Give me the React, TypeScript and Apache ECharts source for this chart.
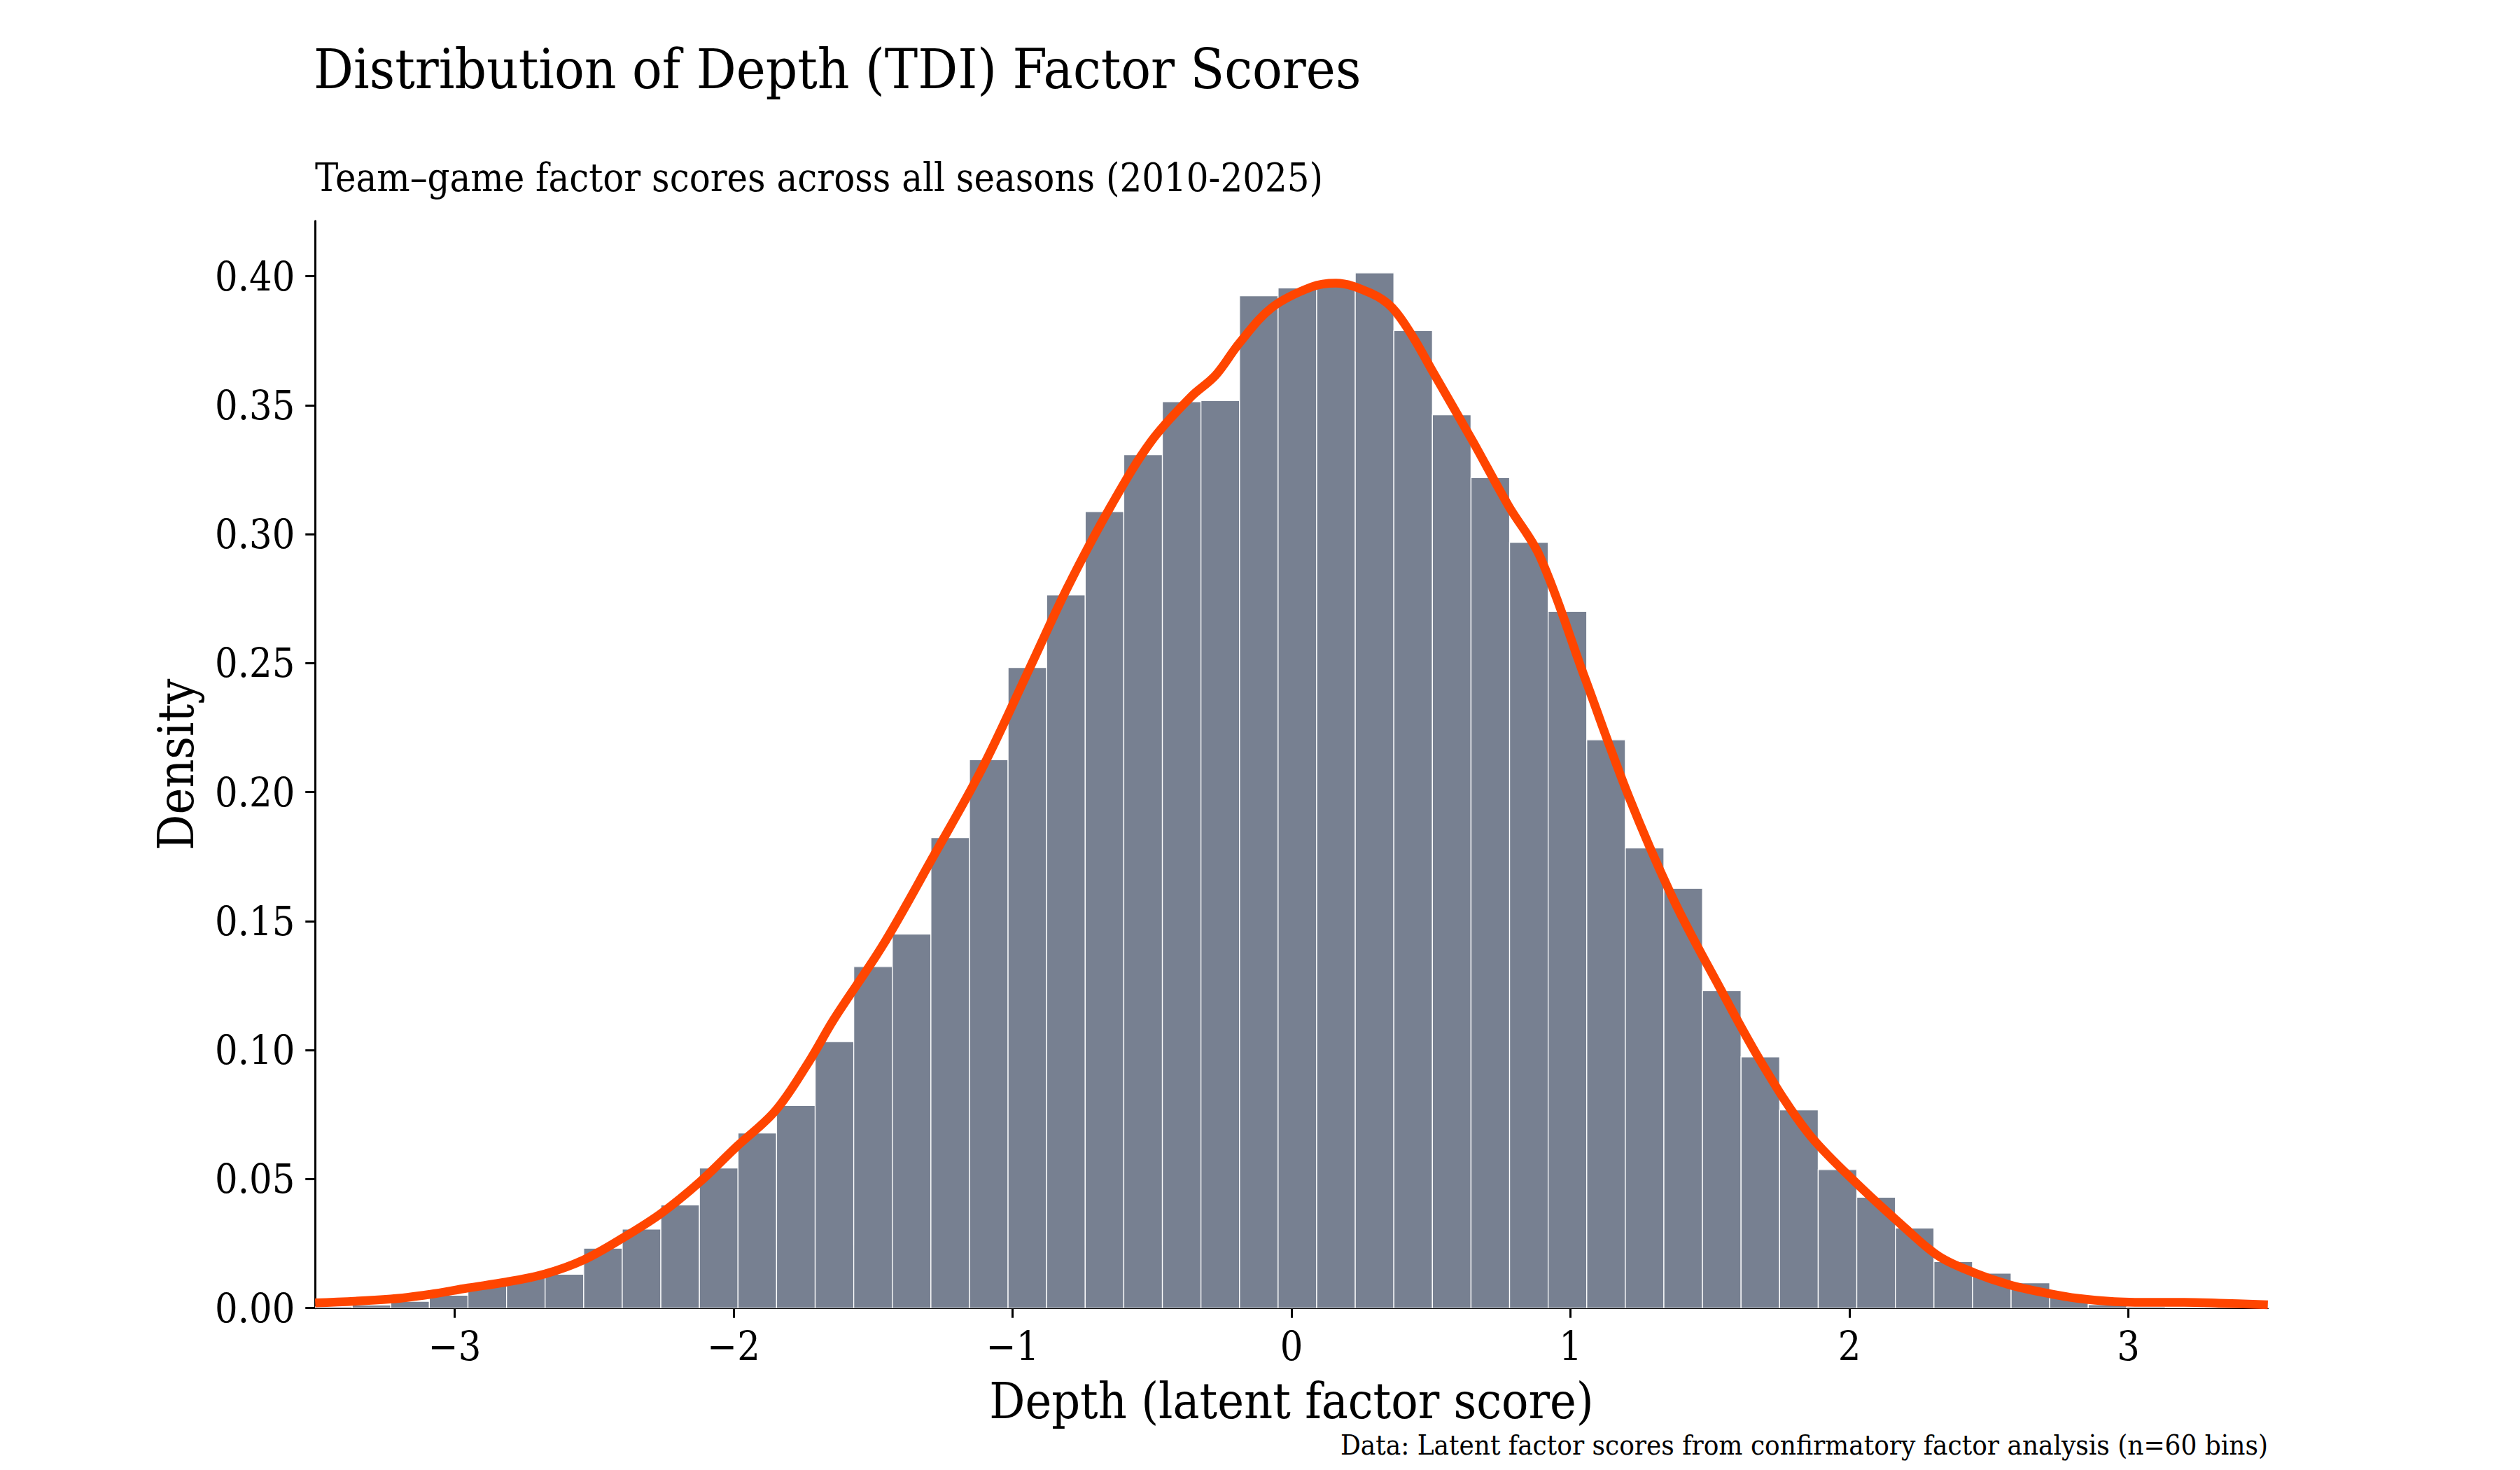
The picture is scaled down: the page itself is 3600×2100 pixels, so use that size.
import React, { useEffect, useRef } from "react";
import * as echarts from "echarts";

// ---- Data ----
const binStart = -3.5055; // left edge of first visible bin
const binWidth = 0.1383;
const binDensity = [
  0.0005, 0.0012, 0.0026, 0.005, 0.0087, 0.0119, 0.0131, 0.0232, 0.0306, 0.04,
  0.0543, 0.0679, 0.0785, 0.1033, 0.1324, 0.145, 0.1824, 0.2126, 0.2483, 0.2765,
  0.3088, 0.3308, 0.3514, 0.3518, 0.3924, 0.3955, 0.397, 0.4013, 0.3789, 0.3463,
  0.3219, 0.2968, 0.2701, 0.2203, 0.1784, 0.1627, 0.123, 0.0974, 0.0768, 0.0537,
  0.043, 0.031, 0.018, 0.0135, 0.0098, 0.0045, 0.0013, 0.0005, 0.0004, 0.0003,
  0.0003,
];

const kdeX = [
  -3.5, -3.229, -3.09, -2.953, -2.815, -2.677, -2.539, -2.4, -2.26, -2.12, -1.99,
  -1.85, -1.73, -1.64, -1.463, -1.287, -1.11, -0.939, -0.8, -0.647, -0.503, -0.359,
  -0.273, -0.186, -0.071, 0.073, 0.159, 0.289, 0.361, 0.433, 0.505, 0.649, 0.778,
  0.891, 1.051, 1.211, 1.371, 1.531, 1.691, 1.851, 2.011, 2.2, 2.322, 2.447, 2.572,
  2.698, 2.823, 2.949, 3.074, 3.2, 3.325, 3.5,
];
const kdeY = [
  0.002, 0.0035, 0.0053, 0.0078, 0.0101, 0.0132, 0.0186, 0.027, 0.0367, 0.049,
  0.0625, 0.0765, 0.0955, 0.112, 0.141, 0.1745, 0.209, 0.248, 0.28, 0.311, 0.336,
  0.3534, 0.3615, 0.3742, 0.3878, 0.3959, 0.3973, 0.3932, 0.3878, 0.3769, 0.3633,
  0.3362, 0.311, 0.2913, 0.2445, 0.1978, 0.158, 0.1251, 0.094, 0.068, 0.0499,
  0.031, 0.02, 0.0137, 0.0091, 0.006, 0.0037, 0.0025, 0.0022, 0.0022, 0.0019,
  0.0013,
];

const xTicks = [-3, -2, -1, 0, 1, 2, 3];
const yTicks = [0, 0.05, 0.1, 0.15, 0.2, 0.25, 0.3, 0.35, 0.4];

const titleText = "Distribution of Depth (TDI) Factor Scores";
const subtitleText = "Team\u2013game factor scores across all seasons (2010-2025)";
const xLabel = "Depth (latent factor score)";
const yLabel = "Density";
const footText = "Data: Latent factor scores from confirmatory factor analysis (n=60 bins)";

const FONT = "'DejaVu Serif Condensed', 'DejaVu Serif', serif";
const BAR_COLOR = "#778091";
const LINE_COLOR = "#FF4500";

export default function App() {
  const ref = useRef<HTMLDivElement>(null);

  useEffect(() => {
    document.body.style.margin = "0";
    if (!ref.current) return;
    const chart = echarts.init(ref.current, null, { renderer: "svg" });

    const histData = binDensity.map((d, i) => [
      binStart + i * binWidth,
      binStart + (i + 1) * binWidth,
      d,
    ]);
    const kdeData = kdeX.map((x, i) => [x, kdeY[i]]);

    const option: any = {
      animation: false,
      backgroundColor: "#ffffff",
      grid: { left: 450.25, right: 360.25, top: 315.8, bottom: 231.3, containLabel: false },
      xAxis: {
        type: "value",
        min: -3.5,
        max: 3.5,
        name: xLabel,
        nameLocation: "middle",
        nameGap: 133,
        nameTextStyle: { fontFamily: FONT, fontSize: 71, color: "#000", verticalAlign: "middle" },
        axisLine: { show: true, onZero: false, lineStyle: { color: "#000", width: 3 } },
        axisTick: { show: true, length: 14, lineStyle: { color: "#000", width: 3 }, customValues: xTicks },
        axisLabel: {
          show: true,
          margin: 26,
          fontFamily: FONT,
          fontSize: 57,
          color: "#000",
          customValues: xTicks,
          formatter: (v: number) => (v < 0 ? "\u2212" + Math.abs(v) : String(v)),
        },
        splitLine: { show: false },
      },
      yAxis: {
        type: "value",
        min: 0,
        max: 0.4214,
        name: yLabel,
        nameLocation: "middle",
        nameGap: 199,
        nameTextStyle: { fontFamily: FONT, fontSize: 71, color: "#000", verticalAlign: "middle" },
        axisLine: { show: true, onZero: false, lineStyle: { color: "#000", width: 3 } },
        axisTick: { show: true, length: 14, lineStyle: { color: "#000", width: 3 }, customValues: yTicks },
        axisLabel: {
          show: true,
          margin: 29,
          fontFamily: FONT,
          fontSize: 57,
          color: "#000",
          customValues: yTicks,
          formatter: (v: number) => v.toFixed(2),
        },
        splitLine: { show: false },
      },
      series: [
        {
          type: "custom",
          name: "Histogram",
          clip: true,
          data: histData,
          encode: { x: [0, 1], y: 2 },
          renderItem: (params: any, api: any) => {
            const x0 = api.value(0);
            const x1 = api.value(1);
            const h = api.value(2);
            const pTop = api.coord([x0, h]);
            const pBot = api.coord([x1, 0]);
            return {
              type: "rect",
              shape: {
                x: pTop[0],
                y: pTop[1],
                width: pBot[0] - pTop[0],
                height: pBot[1] - pTop[1],
              },
              style: { fill: BAR_COLOR, stroke: "#ffffff", lineWidth: 1.3 },
            };
          },
          z: 2,
        },
        {
          type: "line",
          name: "KDE",
          data: kdeData,
          showSymbol: false,
          smooth: 0.35,
          clip: true,
          lineStyle: { color: LINE_COLOR, width: 12.5, cap: "butt", join: "round" },
          z: 3,
        },
      ],
      graphic: [
        {
          type: "text",
          x: 448,
          y: 99,
          style: {
            text: titleText,
            fontFamily: FONT,
            fontSize: 79,
            fill: "#000",
            align: "left",
            verticalAlign: "middle",
            textAlign: "left",
            textVerticalAlign: "middle",
          },
        },
        {
          type: "text",
          x: 450,
          y: 253,
          style: {
            text: subtitleText,
            fontFamily: FONT,
            fontSize: 55.5,
            fill: "#000",
            align: "left",
            verticalAlign: "middle",
            textAlign: "left",
            textVerticalAlign: "middle",
          },
        },
        {
          type: "text",
          x: 3240,
          y: 2064,
          style: {
            text: footText,
            fontFamily: FONT,
            fontSize: 40,
            fill: "#000",
            align: "right",
            verticalAlign: "middle",
            textAlign: "right",
            textVerticalAlign: "middle",
          },
        },
      ],
    };

    chart.setOption(option);
    return () => {
      chart.dispose();
    };
  }, []);

  return <div ref={ref} style={{ width: 3600, height: 2100, background: "#fff" }} />;
}
